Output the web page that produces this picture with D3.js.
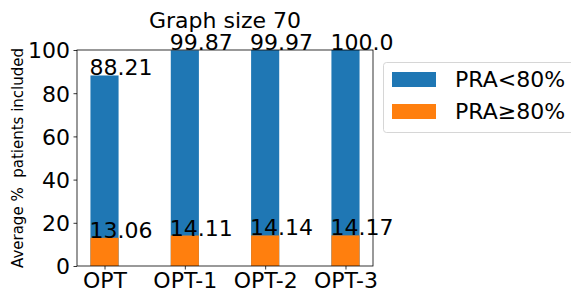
<!DOCTYPE html>
<html>
<head>
<meta charset="utf-8">
<script src="https://cdn.jsdelivr.net/npm/d3@7"></script>
<style>
  body { margin: 0; background: #fff; }
  text { font-family: "DejaVu Sans", sans-serif; }
</style>
</head>
<body>
<div id="chart"></div>
<script>
// chart values
var categories = ["OPT", "OPT-1", "OPT-2", "OPT-3"];
var lowPRA = [88.21, 99.87, 99.97, 100.0];
var highPRA = [13.06, 14.11, 14.14, 14.17];
var lowLabels = ["88.21", "99.87", "99.97", "100.0"];
var highLabels = ["13.06", "14.11", "14.14", "14.17"];
var yTicks = [0, 20, 40, 60, 80, 100];
var seriesNames = ["PRA<80%", "PRA\u226580%"];
var colors = ["#1f77b4", "#ff7f0e"];

var width = 571, height = 289;
var margin = {left: 77, right: 198, top: 50, bottom: 23};
var fs = "22px";

var svg = d3.select("#chart").append("svg")
    .attr("width", width)
    .attr("height", height);

var x = d3.scaleLinear()
    .domain([-0.3425, 3.3425])
    .range([margin.left, width - margin.right]);

var y = d3.scaleLinear()
    .domain([0, 100])
    .range([height - margin.bottom, margin.top]);

var barW = x(0.35) - x(0); // matplotlib default bar width 0.35

// blue bars first, orange on top
svg.selectAll("rect.low").data(lowPRA).enter().append("rect")
    .attr("class", "low")
    .attr("x", function(d, i){ return x(i) - barW / 2; })
    .attr("y", function(d){ return y(d); })
    .attr("width", barW)
    .attr("height", function(d){ return y(0) - y(d); })
    .style("fill", colors[0]);

svg.selectAll("rect.high").data(highPRA).enter().append("rect")
    .attr("class", "high")
    .attr("x", function(d, i){ return x(i) - barW / 2; })
    .attr("y", function(d){ return y(d); })
    .attr("width", barW)
    .attr("height", function(d){ return y(0) - y(d); })
    .style("fill", colors[1]);

// value labels, left aligned at bar edge, baseline at bar top
svg.selectAll("text.lowlab").data(lowPRA).enter().append("text")
    .attr("x", function(d, i){ return x(i) - barW / 2 - 1; })
    .attr("y", function(d){ return y(d); })
    .style("font-size", fs)
    .text(function(d, i){ return lowLabels[i]; });

svg.selectAll("text.highlab").data(highPRA).enter().append("text")
    .attr("x", function(d, i){ return x(i) - barW / 2 - 1; })
    .attr("y", function(d){ return y(d); })
    .style("font-size", fs)
    .text(function(d, i){ return highLabels[i]; });

// axes
var yAxis = d3.axisLeft(y).tickValues(yTicks).tickSize(3.5).tickPadding(3.5);
var gy = svg.append("g")
    .attr("transform", "translate(" + margin.left + ",0)")
    .call(yAxis);
gy.select(".domain").remove();
gy.selectAll("text").style("font-size", fs).attr("dy", "0.36em");

var xAxis = d3.axisBottom(x).tickValues([0, 1, 2, 3])
    .tickFormat(function(d){ return categories[d]; })
    .tickSize(3.5).tickPadding(3.5);
var gx = svg.append("g")
    .attr("transform", "translate(0," + y(0) + ")")
    .call(xAxis);
gx.select(".domain").remove();
gx.selectAll("text").style("font-size", fs).attr("dy", "0.67em");

svg.selectAll(".tick line").attr("stroke", "#000").attr("stroke-width", 0.8);
svg.selectAll(".tick text").attr("fill", "#000");

// frame
svg.append("rect")
    .attr("x", margin.left)
    .attr("y", margin.top)
    .attr("width", width - margin.right - margin.left)
    .attr("height", height - margin.bottom - margin.top)
    .style("fill", "none")
    .style("stroke", "#000")
    .style("stroke-width", 0.8);

// title
svg.append("text")
    .attr("x", (margin.left + width - margin.right) / 2)
    .attr("y", 28)
    .attr("text-anchor", "middle")
    .style("font-size", fs)
    .text("Graph size 70");

// y label
svg.append("text")
    .attr("transform", "translate(23," + ((margin.top + height - margin.bottom) / 2) + ") rotate(-90)")
    .attr("text-anchor", "middle")
    .style("font-size", "15px")
    .style("white-space", "pre")
    .text("Average %  patients included");

// legend
var legend = svg.append("g");
legend.append("rect")
    .attr("x", 383.5).attr("y", 62.5)
    .attr("width", 200).attr("height", 70)
    .attr("rx", 3)
    .style("fill", "#fff")
    .style("fill-opacity", 0.8)
    .style("stroke", "#ccc")
    .style("stroke-width", 0.8);

seriesNames.forEach(function(name, i){
    legend.append("rect")
        .attr("x", 392).attr("y", 72 + i * 32)
        .attr("width", 44).attr("height", 15)
        .style("fill", colors[i]);
    legend.append("text")
        .attr("x", 455).attr("y", 87 + i * 32)
        .style("font-size", fs)
        .text(name);
});
</script>
</body>
</html>
